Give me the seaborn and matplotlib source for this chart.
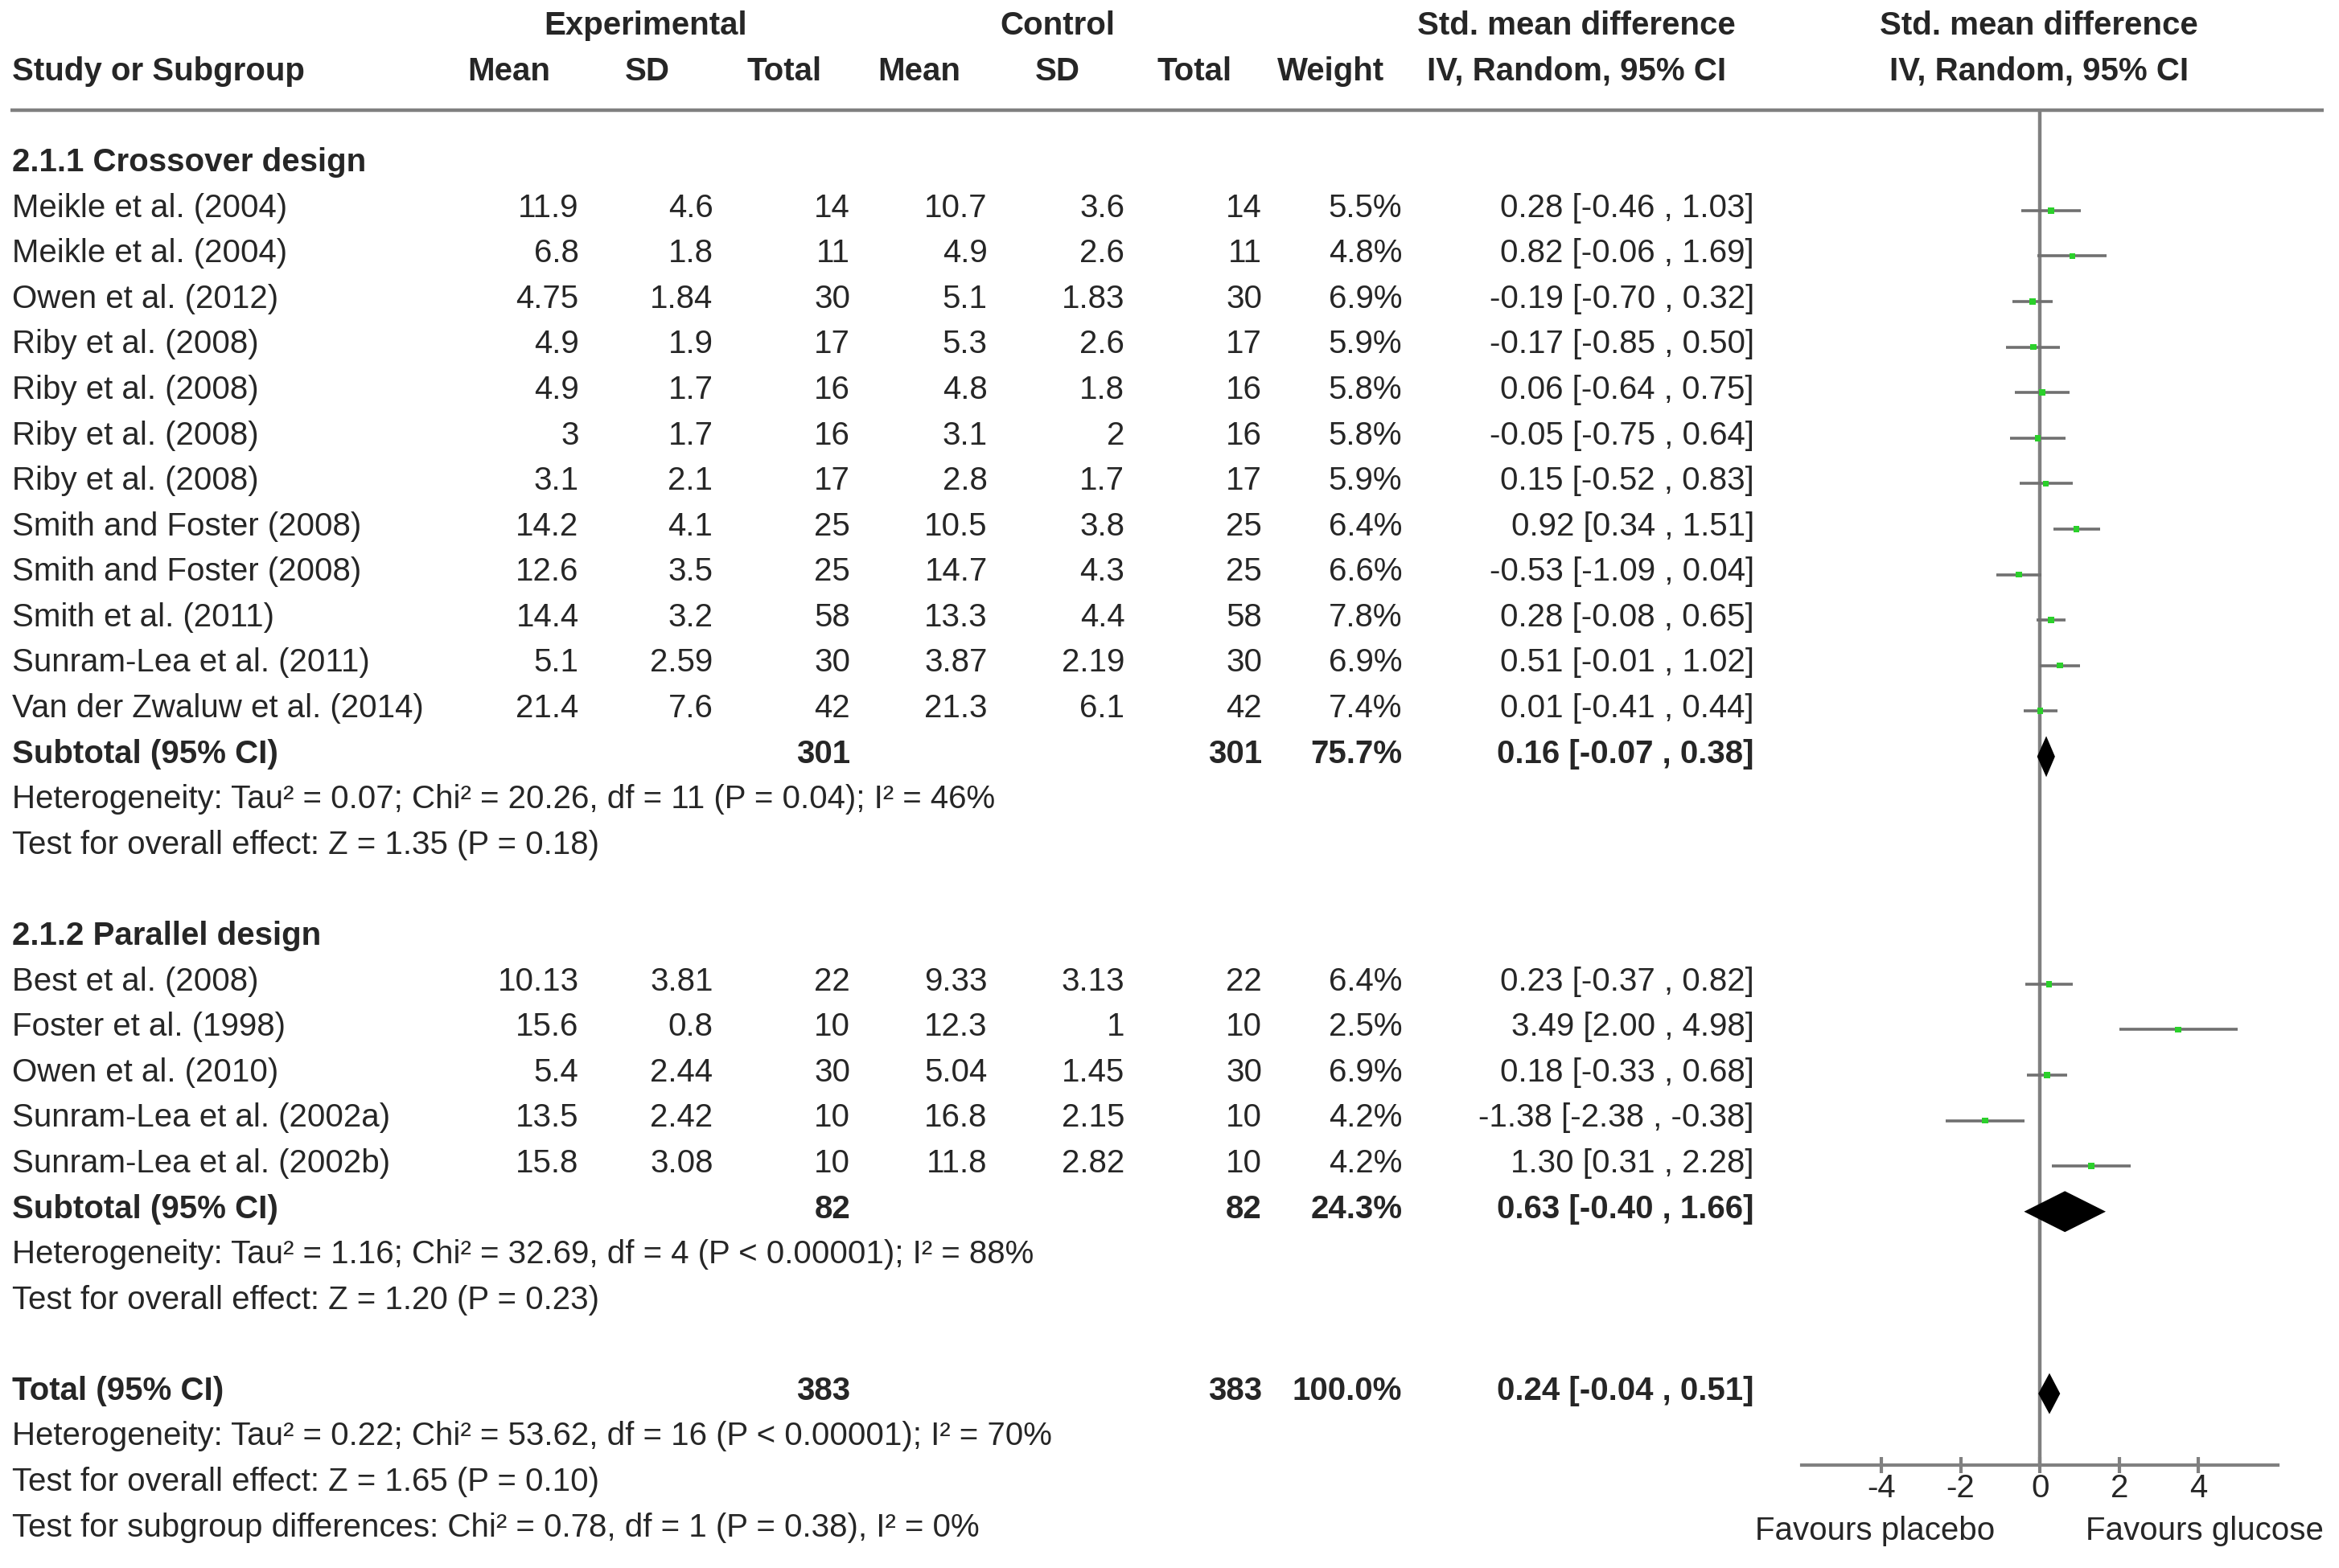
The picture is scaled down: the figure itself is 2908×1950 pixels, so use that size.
import numpy as np
import pandas as pd
import matplotlib
matplotlib.use('Agg')
import matplotlib.pyplot as plt
import seaborn as sns

# Данные: 2.1.1 Crossover design
cross_study = ['Meikle et al. (2004)', 'Meikle et al. (2004)', 'Owen et al. (2012)', 'Riby et al. (2008)',
               'Riby et al. (2008)', 'Riby et al. (2008)', 'Riby et al. (2008)', 'Smith and Foster (2008)',
               'Smith and Foster (2008)', 'Smith et al. (2011)', 'Sunram-Lea et al. (2011)',
               'Van der Zwaluw et al. (2014)']
cross_exp_mean = ['11.9', '6.8', '4.75', '4.9', '4.9', '3', '3.1', '14.2', '12.6', '14.4', '5.1', '21.4']
cross_exp_sd = ['4.6', '1.8', '1.84', '1.9', '1.7', '1.7', '2.1', '4.1', '3.5', '3.2', '2.59', '7.6']
cross_exp_n = [14, 11, 30, 17, 16, 16, 17, 25, 25, 58, 30, 42]
cross_ctl_mean = ['10.7', '4.9', '5.1', '5.3', '4.8', '3.1', '2.8', '10.5', '14.7', '13.3', '3.87', '21.3']
cross_ctl_sd = ['3.6', '2.6', '1.83', '2.6', '1.8', '2', '1.7', '3.8', '4.3', '4.4', '2.19', '6.1']
cross_ctl_n = [14, 11, 30, 17, 16, 16, 17, 25, 25, 58, 30, 42]
cross_weight = [5.5, 4.8, 6.9, 5.9, 5.8, 5.8, 5.9, 6.4, 6.6, 7.8, 6.9, 7.4]
cross_smd = [0.28, 0.82, -0.19, -0.17, 0.06, -0.05, 0.15, 0.92, -0.53, 0.28, 0.51, 0.01]
cross_lo = [-0.46, -0.06, -0.70, -0.85, -0.64, -0.75, -0.52, 0.34, -1.09, -0.08, -0.01, -0.41]
cross_hi = [1.03, 1.69, 0.32, 0.50, 0.75, 0.64, 0.83, 1.51, 0.04, 0.65, 1.02, 0.44]

# 2.1.2 Parallel design
par_study = ['Best et al. (2008)', 'Foster et al. (1998)', 'Owen et al. (2010)',
             'Sunram-Lea et al. (2002a)', 'Sunram-Lea et al. (2002b)']
par_exp_mean = ['10.13', '15.6', '5.4', '13.5', '15.8']
par_exp_sd = ['3.81', '0.8', '2.44', '2.42', '3.08']
par_exp_n = [22, 10, 30, 10, 10]
par_ctl_mean = ['9.33', '12.3', '5.04', '16.8', '11.8']
par_ctl_sd = ['3.13', '1', '1.45', '2.15', '2.82']
par_ctl_n = [22, 10, 30, 10, 10]
par_weight = [6.4, 2.5, 6.9, 4.2, 4.2]
par_smd = [0.23, 3.49, 0.18, -1.38, 1.30]
par_lo = [-0.37, 2.00, -0.33, -2.38, 0.31]
par_hi = [0.82, 4.98, 0.68, -0.38, 2.28]

# Итоги: crossover subtotal, parallel subtotal, total
pooled_label = ['Subtotal (95% CI)', 'Subtotal (95% CI)', 'Total (95% CI)']
pooled_n = [301, 82, 383]
pooled_weight = [75.7, 24.3, 100.0]
pooled_smd = [0.16, 0.63, 0.24]
pooled_lo = [-0.07, -0.40, -0.04]
pooled_hi = [0.38, 1.66, 0.51]

notes_cross = ['Heterogeneity: Tau² = 0.07; Chi² = 20.26, df = 11 (P = 0.04); I² = 46%',
               'Test for overall effect: Z = 1.35 (P = 0.18)']
notes_par = ['Heterogeneity: Tau² = 1.16; Chi² = 32.69, df = 4 (P < 0.00001); I² = 88%',
             'Test for overall effect: Z = 1.20 (P = 0.23)']
notes_total = ['Heterogeneity: Tau² = 0.22; Chi² = 53.62, df = 16 (P < 0.00001); I² = 70%',
               'Test for overall effect: Z = 1.65 (P = 0.10)',
               'Test for subgroup differences: Chi² = 0.78, df = 1 (P = 0.38), I² = 0%']

x_ticks = [-4, -2, 0, 2, 4]

# Сборка таблицы
studies = pd.DataFrame({
    'study': cross_study + par_study,
    'em': cross_exp_mean + par_exp_mean, 'es': cross_exp_sd + par_exp_sd, 'en': cross_exp_n + par_exp_n,
    'cm': cross_ctl_mean + par_ctl_mean, 'cs': cross_ctl_sd + par_ctl_sd, 'cn': cross_ctl_n + par_ctl_n,
    'w': cross_weight + par_weight, 'smd': cross_smd + par_smd, 'lo': cross_lo + par_lo, 'hi': cross_hi + par_hi,
})
studies['row'] = list(range(4, 4 + len(cross_study))) + list(range(21, 21 + len(par_study)))
pooled_rows = [16, 26, 30]

sns.set_theme(style='white')
plt.rcParams['font.family'] = ['Liberation Sans', 'DejaVu Sans']
FS = 29
DY = 0.08   # небольшой сдвиг текста вниз
GRAY = '#808080'
GREEN = '#2bd02b'

fig = plt.figure(figsize=(29.08, 19.50), dpi=100)
ax = fig.add_axes([0, 0, 1, 1])
ax.set_xlim(0, 1568)
ax.set_ylim(33.97, -0.49)
ax.axis('off')

# колонки: правый край чисел и центр заголовков
num_x = [388, 478, 570, 662, 754, 846, 940, 1176]
head_x = [341, 434, 526, 616, 709, 801, 892, 1057]
head_txt = ['Mean', 'SD', 'Total', 'Mean', 'SD', 'Total', 'Weight', 'IV, Random, 95% CI']

bold = dict(fontsize=FS, fontweight='bold', va='center')
norm = dict(fontsize=FS, va='center')

ax.text(433, 0 + DY, 'Experimental', ha='center', **bold)
ax.text(709, 0 + DY, 'Control', ha='center', **bold)
ax.text(1057, 0 + DY, 'Std. mean difference', ha='center', **bold)
ax.text(1367, 0 + DY, 'Std. mean difference', ha='center', **bold)
ax.text(8, 1 + DY, 'Study or Subgroup', ha='left', **bold)
for x, t in zip(head_x, head_txt):
    ax.text(x, 1 + DY, t, ha='center', **bold)
ax.text(1367, 1 + DY, 'IV, Random, 95% CI', ha='center', **bold)
ax.hlines(1.93, 7, 1558, color=GRAY, lw=3.2)

ax.text(8, 3 + DY, '2.1.1 Crossover design', ha='left', **bold)
ax.text(8, 20 + DY, '2.1.2 Parallel design', ha='left', **bold)

for _, r in studies.iterrows():
    vals = [r.em, r.es, str(r.en), r.cm, r.cs, str(r.cn), f'{r.w:.1f}%',
            f'{r.smd:.2f} [{r.lo:.2f} , {r.hi:.2f}]']
    ax.text(8, r.row + DY, r.study, ha='left', **norm)
    for x, v in zip(num_x, vals):
        ax.text(x, r.row + DY, v, ha='right', **norm)

for row, lab, n, w, e, lo, hi in zip(pooled_rows, pooled_label, pooled_n, pooled_weight,
                                     pooled_smd, pooled_lo, pooled_hi):
    ax.text(8, row + DY, lab, ha='left', **bold)
    ax.text(num_x[2], row + DY, str(n), ha='right', **bold)
    ax.text(num_x[5], row + DY, str(n), ha='right', **bold)
    ax.text(num_x[6], row + DY, f'{w:.1f}%', ha='right', **bold)
    ax.text(num_x[7], row + DY, f'{e:.2f} [{lo:.2f} , {hi:.2f}]', ha='right', **bold)

for start, notes in zip([17, 27, 31], [notes_cross, notes_par, notes_total]):
    for i, t in enumerate(notes):
        ax.text(8, start + i + DY, t, ha='left', **norm)

# Лесной график
axf = fig.add_axes([1208 / 1568, 1 - 982 / 1051, 319 / 1568, (982 - 74) / 1051])
axf.set_xlim(-6, 6)
axf.set_ylim(31.70, 1.93)
axf.patch.set_alpha(0)
for s in ['top', 'left', 'right']:
    axf.spines[s].set_visible(False)
axf.spines['bottom'].set_color(GRAY)
axf.spines['bottom'].set_linewidth(3)
axf.set_yticks([])
axf.set_xticks(x_ticks)
axf.set_xticklabels([str(t) for t in x_ticks])
axf.tick_params(axis='x', direction='inout', length=14, width=3, color=GRAY,
                labelsize=FS, pad=0, bottom=True)
axf.axvline(0, color=GRAY, lw=3.2, zorder=1)

off = 0.13
axf.hlines(studies['row'] + off, studies['lo'], studies['hi'], color='#707070', lw=2.6, zorder=2)
sns.scatterplot(x=studies['smd'], y=studies['row'] + off, marker='s', s=30, color=GREEN,
                edgecolor='none', ax=axf, zorder=3, legend=False)
axf.set_xlabel('')
axf.set_ylabel('')

for row, e, lo, hi in zip(pooled_rows, pooled_smd, pooled_lo, pooled_hi):
    yc = row + off
    axf.fill([lo, e, hi, e], [yc, yc - 0.45, yc, yc + 0.45], color='black', zorder=4, lw=0)

ax.text(1257, 33.08 + DY, 'Favours placebo', ha='center', **norm)
ax.text(1478, 33.08 + DY, 'Favours glucose', ha='center', **norm)

fig.savefig('out.png', dpi=100)
